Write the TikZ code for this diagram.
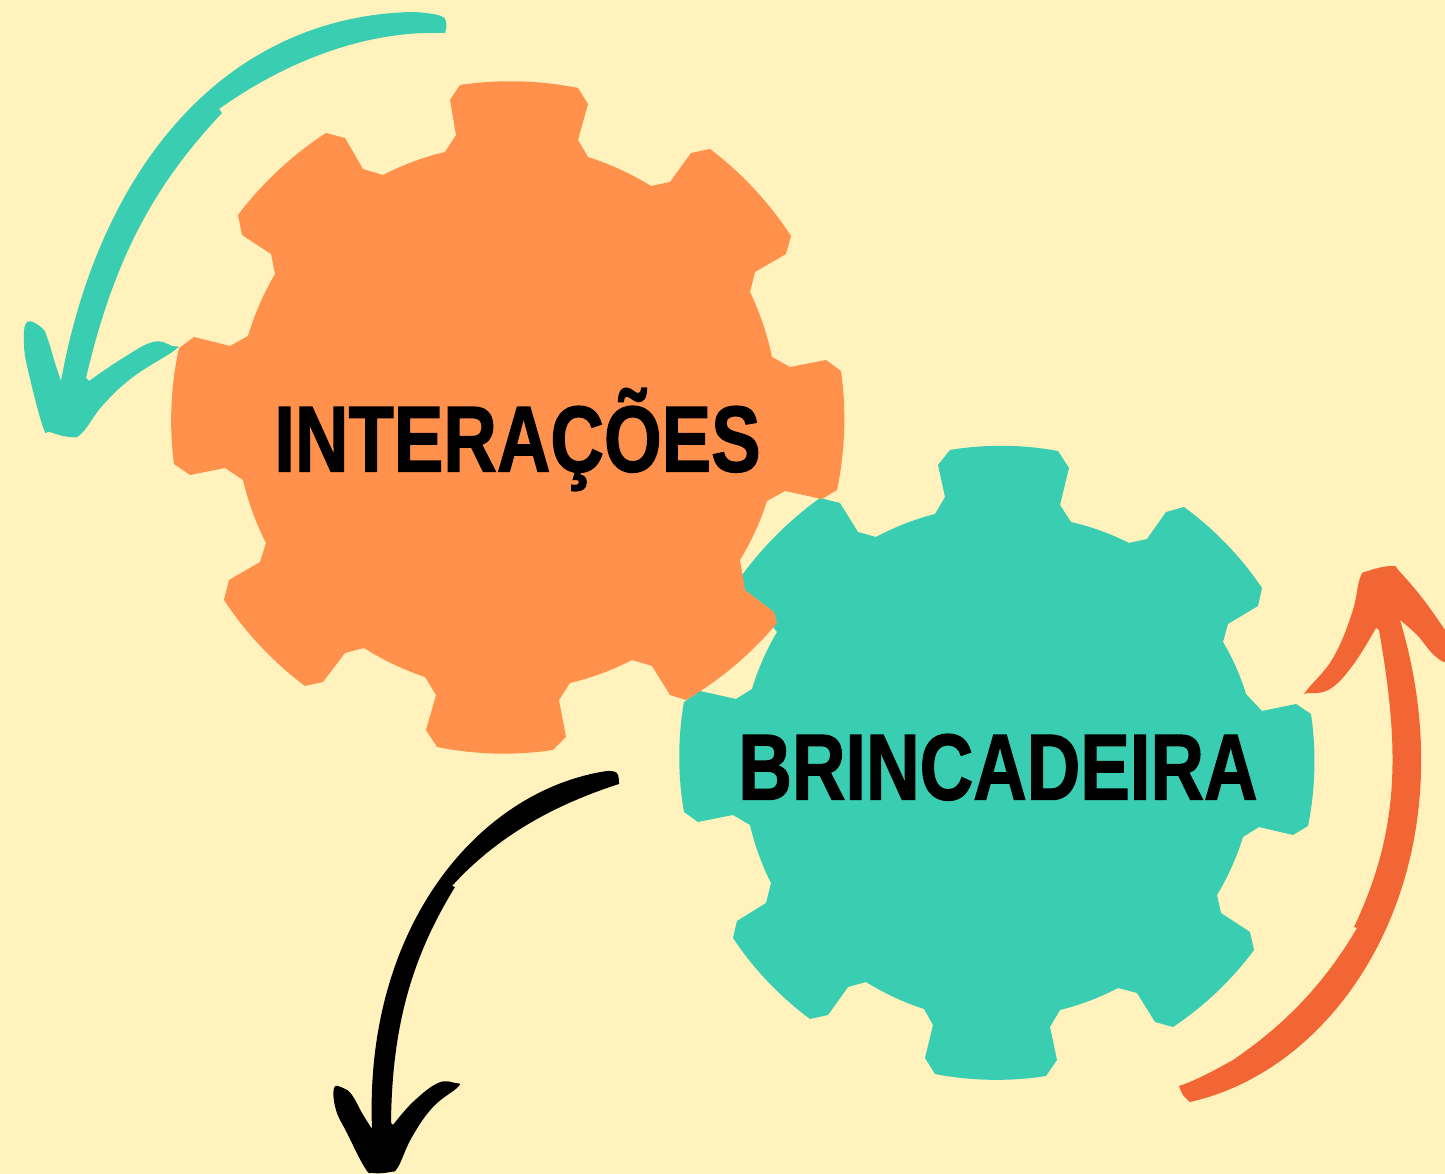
\documentclass[tikz,border=0pt]{standalone}
\usepackage{fontspec}
\setmainfont{Liberation Sans}[BoldFeatures={FakeBold=1.6}]
\definecolor{bgcream}{HTML}{FFF2BD}
\definecolor{gearorange}{HTML}{FF914D}
\definecolor{gearteal}{HTML}{39CDB2}
\definecolor{arroworange}{HTML}{F26636}
\tikzset{
  arc10/.style={bend left=10,looseness=0.85},
  arc7/.style={bend left=7,looseness=0.85},
  gearlabel/.style={anchor=base,inner sep=0pt,xscale=0.793,font=\bfseries\fontsize{26.6}{30}\selectfont},
  tipbrush/.style={smooth,tension=0.7}
}
\begin{document}
\begin{tikzpicture}[x=0.01cm,y=-0.01cm]
 \fill[bgcream](0,0) rectangle (1445,1174);
 \useasboundingbox (0,0) rectangle (1445,1174);
 % gear in teal
 \fill[gearteal](950,450) to[arc10] (1058,451)--(1069,468)--(1060,505)--(1071,522) to[arc7] (1129,543)--(1147,539)--(1166,512)--(1184,507) to[arc10] (1262,588)--(1258,606)--(1228,624)--(1223,642) to[arc7] (1246,694)--(1262,711)--(1296,704)--(1311,714) to[arc10] (1308,826)--(1293,835)--(1259,827)--(1243,837) to[arc7] (1217,895)--(1221,913)--(1250,932)--(1254,950) to[arc10] (1173,1027)--(1155,1022)--(1137,993)--(1118,988) to[arc7] (1060,1010)--(1050,1027)--(1057,1060)--(1046,1076) to[arc10] (935,1074)--(925,1058)--(933,1025)--(924,1009) to[arc7] (866,982)--(848,987)--(828,1015)--(810,1019) to[arc10] (733,938)--(737,921)--(766,903)--(771,883) to[arc7] (750,825)--(733,815)--(698,822)--(684,812) to[arc10] (684,702)--(700,691)--(736,699)--(752,689) to[arc7] (777,632)--(770,623)--(740,605)--(735,585) to[arc10] (820,498)--(840,503)--(858,532)--(876,537) to[arc7] (935,514)--(945,497)--(938,465)--cycle;
 % gear in orange
 \fill[gearorange](460,85) to[arc10] (578,88)--(588,104)--(578,140)--(588,157) to[arc7] (651,186)--(670,182)--(691,153)--(710,149) to[arc10] (791,236)--(786,254)--(755,272)--(750,292) to[arc7] (772,357)--(790,367)--(826,360)--(841,371) to[arc10] (837,490)--(822,499)--(785,491)--(767,501) to[arc7] (740,560)--(745,590)--(774,612)--(777,623) to[arc10] (686,700)--(670,695)--(652,666)--(632,660) to[arc7] (570,683)--(559,700)--(566,737)--(553,750) to[arc10] (437,747)--(426,730)--(436,695)--(425,677) to[arc7] (364,648)--(345,653)--(323,682)--(305,686) to[arc10] (224,600)--(229,580)--(260,562)--(266,543) to[arc7] (243,480)--(225,468)--(190,475)--(174,464) to[arc10] (179,348)--(194,337)--(230,346)--(248,336) to[arc7] (275,274)--(271,254)--(242,235)--(238,215) to[arc10] (326,133)--(345,138)--(363,169)--(383,175) to[arc7] (445,152)--(456,135)--(450,100)--cycle;
 \node[gearlabel] (interacoes) at (517.5,471.5) {INTERAÇÕES};
 \node[gearlabel] (brincadeira) at (998,799.5) {BRINCADEIRA};
 % teal arrow
 \fill[gearteal] plot[tipbrush] coordinates {(445,33)(443,17)(413,12)}
  .. controls (226,16) and (100,166) .. (61,381)
  -- plot[tipbrush] coordinates {(61,381)(55,363)(48,340)(42,328)(27,322)(24,343)(28,370)(43,427)(50,432)(70,437)(82,433)(103,405)(133,377)(175,350)(172,346)(153,342)(123,358)(89,381)}
  -- (86,378) .. controls (114,258) and (155,184) .. (222,113)
  -- (219,109) .. controls (285,62) and (365,30) .. (445,33) -- cycle;
 % black arrow
 \fill[black] plot[tipbrush] coordinates {(619,784)(617,773)(607,771)}
  .. controls (480,790) and (364,925) .. (372,1129)
  -- plot[tipbrush] coordinates {(372,1129)(362,1113)(352,1095)(343,1088)(334,1088)(336,1110)(347,1133)(365,1168)(373,1173)(390,1172)(398,1167)(412,1137)(433,1107)(458,1087)(455,1083)(438,1083)(413,1102)(393,1125)}
  -- (391,1123) .. controls (392,1030) and (410,960) .. (455,887)
  -- (452,886) .. controls (500,833) and (560,803) .. (619,784) -- cycle;
 % orange arrow
 \fill[arroworange] plot[tipbrush] coordinates {(1179,1086)(1183,1095)(1190,1102)}
  .. controls (1350,1066) and (1472,860) .. (1400,620)
  -- plot[tipbrush] coordinates {(1400,620)(1417,635)(1430,651)(1440,660)(1445,662)}
  -- plot[tipbrush] coordinates {(1445,630)(1423,599)(1400,572)(1392,566)(1368,571)(1360,578)(1352,613)(1333,658)(1307,690)(1308,693)(1330,689)(1353,665)(1376,628)}
  -- (1379,630) .. controls (1400,750) and (1400,830) .. (1354,927)
  -- (1357,928) .. controls (1322,988) and (1280,1028) .. (1233,1060)
  .. controls (1215,1070) and (1197,1080) .. (1179,1086) -- cycle;
\end{tikzpicture}
\end{document}
